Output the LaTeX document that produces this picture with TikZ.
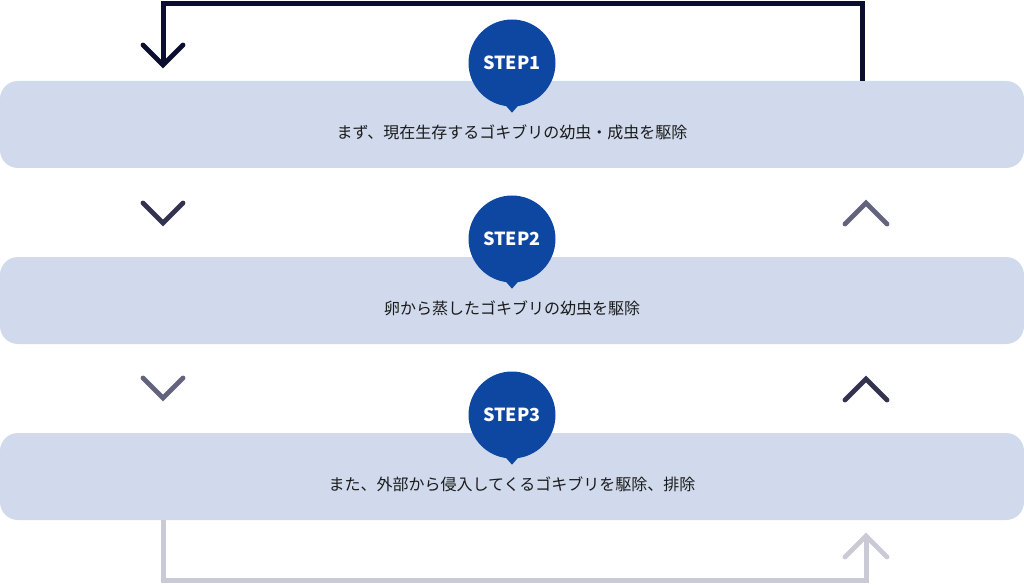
\documentclass[tikz,border=0pt]{standalone}
\usepackage{fontspec}
\newfontfamily\jp{Noto Sans CJK JP}
\usetikzlibrary{positioning}
\usetikzlibrary{calc}

\definecolor{barblue}{HTML}{D0DAEC}
\definecolor{stepblue}{HTML}{0E47A1}
\definecolor{loopdark}{HTML}{0B0E2E}
\definecolor{chevdark}{HTML}{33334F}
\definecolor{chevgray}{HTML}{63637E}
\definecolor{looplight}{HTML}{CACAD6}
\definecolor{textdark}{HTML}{1A1A1A}

\begin{document}
\begin{tikzpicture}[x=1pt, y=-1pt]
    % canvas of the reference size
    \useasboundingbox (0, 0) rectangle (1024, 585);

    \tikzstyle{bar} = [fill=barblue, rounded corners=18pt]
    \tikzstyle{bubble} = [fill=stepblue, circle, minimum size=87pt, inner sep=0pt, text=white, font=\jp\bfseries\fontsize{18}{18}\selectfont]
    \tikzstyle{label} = [text=textdark, font=\jp\fontsize{16}{16}\selectfont]
    \tikzstyle{chevron} = [line width=4.8pt, line cap=round, line join=miter]

    % the three bars, spaced 176 apart
    \foreach \i in {1, 2, 3} {
        \fill[bar] (0, {81 + (\i - 1) * 176}) rectangle (1024, {168 + (\i - 1) * 176});
        \coordinate (B\i) at (512, {125 + (\i - 1) * 176});
    }

    % the loop lines behind the bubbles
    \coordinate (L1) at (163, 62);
    \coordinate (R1) at (862, 81);
    \draw[loopdark, line width=5pt] (L1) |- (512, 4) -| (R1);
    \draw[chevron, loopdark] (143, 45) -- (L1 |- 0, 65) -- (183, 45);

    \coordinate (L3) at (163, 520);
    \coordinate (R3) at (866, 536);
    \draw[looplight, line width=5pt] (L3) |- (512, 580.5) -| (R3);
    \draw[chevron, looplight] (845, 557) -- (R3) -- (887, 557);

    % chevrons between the bars
    \draw[chevron, chevdark] (143, 203) -- (163, 223) -- (183, 203);
    \draw[chevron, chevgray] (845, 224) -- (866, 203) -- (887, 224);
    \draw[chevron, chevgray] (143, 378) -- (163, 398) -- (183, 378);
    \draw[chevron, chevdark] (845, 400) -- (866, 379) -- (887, 400);

    % the step bubbles with their small tails
    \foreach \i in {1, 2, 3} {
        \node[bubble] (S\i) at ($(B\i) + (0, -62)$) {STEP\i};
        \fill[stepblue] ($(S\i.south) + (-7, -2)$) -- ($(S\i.south) + (7, -2)$) -- ($(S\i.south) + (0, 6)$) -- cycle;
    }

    % texts of the bars
    \node[label] (T1) at ($(B1) + (0, 7)$) {まず、現在生存するゴキブリの幼虫・成虫を駆除};
    \node[label] (T2) at ($(B2) + (0, 7)$) {卵から蒸したゴキブリの幼虫を駆除};
    \node[label] (T3) at ($(B3) + (0, 7)$) {また、外部から侵入してくるゴキブリを駆除、排除};

\end{tikzpicture}
\end{document}
